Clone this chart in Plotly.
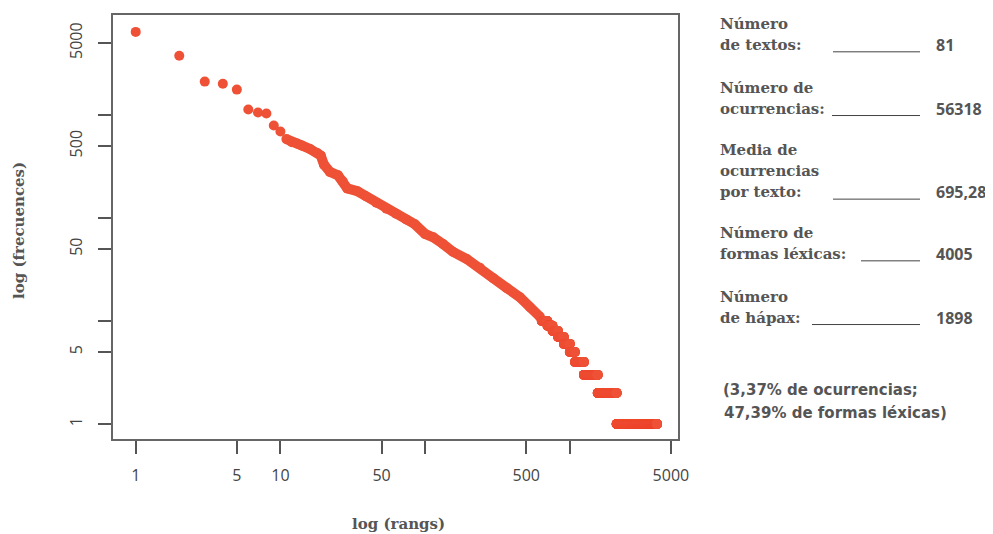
import plotly.graph_objects as go

# ---------------- data ----------------
top_ranks = [1, 2, 3, 4, 5, 6, 7, 8, 9, 10]
top_freqs = [6410, 3760, 2110, 2015, 1765, 1130, 1057, 1033, 792, 693]

mid_ranks = [11, 12, 13, 14, 16, 18, 19, 20, 22, 25, 27, 29, 34, 39, 46, 54, 63,
             74, 85, 100, 114, 133, 156, 194, 239, 296, 366, 453, 531, 622]
mid_freqs = [584, 545, 530, 507, 468, 428, 404, 330, 280, 260, 228, 194, 182, 163,
             141, 123, 110, 97, 87, 70, 65, 56, 47, 40, 33, 26, 21, 17, 13.6, 11]

# low frequencies: every form with that frequency, ranks first..last
step_freqs = [10, 9, 8, 7, 6, 5, 4, 3, 2, 1]
step_first = [640, 701, 761, 831, 911, 1001, 1086, 1254, 1560, 2108]
step_last = [700, 760, 830, 910, 1000, 1085, 1253, 1559, 2107, 4005]

tick_vals = [1, 5, 10, 50, 100, 500, 1000, 5000]
x_tick_text = ["1", "5", "10", "50", "", "500", "", "5000"]
y_tick_text = ["1", "5", "", "50", "", "500", "", "5000"]

panel_labels = [["Número", "de textos:"],
                ["Número de", "ocurrencias:"],
                ["Media de", "ocurrencias", "por texto:"],
                ["Número de", "formas léxicas:"],
                ["Número", "de hápax:"]]
panel_values = ["81", "56318", "695,28", "4005", "1898"]
note_lines = ["(3,37% de ocurrencias;", "47,39% de formas léxicas)"]

# ---------------- layout constants ----------------
OFF = 8                      # page body margin
W, H = 993 - OFF, 534 - OFF  # figure size so it fits the window
# plot area in page pixels: x 113..678, y 13..439
L = 113 - OFF
T = 13 - OFF
R = W - (678 - OFF)
B = H - (439 - OFF)
PW, PH = W - L - R, H - T - B
COLOR = "#EE5136"
TXT = "#555555"
SERIF = "DejaVu Serif"


def px(x):
    return (x - OFF - L) / PW


def py(y):
    return (H - B - (y - OFF)) / PH


step_x, step_y = [], []
for f, a, b in zip(step_freqs, step_first, step_last):
    for r in range(a, b + 1):
        step_x.append(r)
        step_y.append(f)

fig = go.Figure()
fig.add_trace(go.Scatter(x=mid_ranks, y=mid_freqs, mode="lines+markers",
                         line=dict(color=COLOR, width=10),
                         marker=dict(color=COLOR, size=10), hoverinfo="skip"))
fig.add_trace(go.Scatter(x=top_ranks, y=top_freqs, mode="markers",
                         marker=dict(color=COLOR, size=10), hoverinfo="skip"))
fig.add_trace(go.Scatter(x=step_x, y=step_y, mode="markers",
                         marker=dict(color=COLOR, size=10), hoverinfo="skip"))

axis_common = dict(type="log", tickvals=tick_vals, ticks="outside", ticklen=13,
                   tickwidth=2, tickcolor="#555555", showline=True, mirror=True,
                   linecolor="#666666", linewidth=2, showgrid=False, zeroline=False,
                   tickfont=dict(family="Open Sans", size=16, color="#444444"))

fig.update_xaxes(range=[-0.157, 3.748], ticktext=x_tick_text,
                 ticklabelstandoff=8, **axis_common)
fig.update_yaxes(range=[-0.145, 3.971], ticktext=y_tick_text, tickangle=-90,
                 ticklabelstandoff=10, **axis_common)

ann = []
ann.append(dict(text="<b>log (rangs)</b>", x=px(398), y=py(524), xref="paper", yref="paper",
                xanchor="center", yanchor="middle",
                showarrow=False, font=dict(family=SERIF, size=15, color=TXT)))
ann.append(dict(text="<b>log (frecuences)</b>", x=px(19), y=py(230), xref="paper", yref="paper",
                xanchor="center", yanchor="middle",
                showarrow=False, textangle=-90, font=dict(family=SERIF, size=15, color=TXT)))

first_y = [22, 86, 149, 232, 296]
line_x0 = [833, 832, 833, 861, 812]
shapes = []
for lines, y0, val, x0 in zip(panel_labels, first_y, panel_values, line_x0):
    for i, t in enumerate(lines):
        ann.append(dict(text="<b>" + t + "</b>", x=px(718), y=py(y0 + 21 * i), xref="paper",
                        yref="paper", xanchor="left", yanchor="middle", showarrow=False,
                        font=dict(family=SERIF, size=15, color=TXT)))
    ylast = y0 + 21 * (len(lines) - 1)
    ann.append(dict(text="<b>" + val + "</b>", x=px(934), y=py(ylast), xref="paper",
                    yref="paper", xanchor="left", yanchor="middle", showarrow=False,
                    font=dict(family="Open Sans", size=16, color=TXT)))
    shapes.append(dict(type="line", xref="paper", yref="paper", x0=px(x0), x1=px(920),
                       y0=py(ylast + 7), y1=py(ylast + 7),
                       line=dict(color="#444444", width=1)))

for i, t in enumerate(note_lines):
    ann.append(dict(text="<b>" + t + "</b>", x=px(721 + 1 * i), y=py(390 + 23 * i), xref="paper",
                    yref="paper", xanchor="left", yanchor="middle", showarrow=False,
                    font=dict(family="DejaVu Sans", size=15, color=TXT)))

fig.update_layout(width=W, height=H, margin=dict(l=L, r=R, t=T, b=B),
                  paper_bgcolor="white", plot_bgcolor="white", showlegend=False,
                  annotations=ann, shapes=shapes)

fig.write_html("out.html")
